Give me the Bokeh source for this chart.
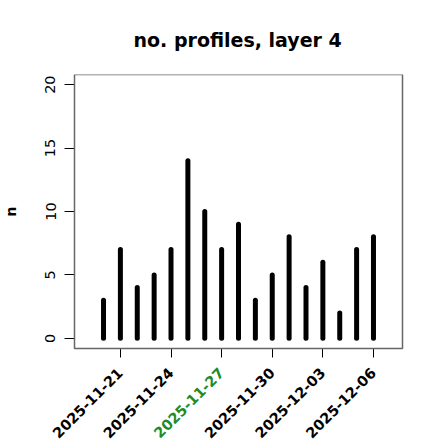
from math import pi
import pandas as pd
from bokeh.plotting import figure
from bokeh.models import (Range1d, FixedTicker, ColumnDataSource, DatetimeAxis,
                          DatetimeTickFormatter, BoxAnnotation)
from bokeh.embed import file_html
from bokeh.resources import INLINE

# ---- data ----
dates = ["2025-11-20", "2025-11-21", "2025-11-22", "2025-11-23", "2025-11-24",
         "2025-11-25", "2025-11-26", "2025-11-27", "2025-11-28", "2025-11-29",
         "2025-11-30", "2025-12-01", "2025-12-02", "2025-12-03", "2025-12-04",
         "2025-12-05", "2025-12-06"]
counts = [3, 7, 4, 5, 7, 14, 10, 7, 9, 3, 5, 8, 4, 6, 2, 7, 8]
tick_dates = ["2025-11-21", "2025-11-24", "2025-11-27", "2025-11-30", "2025-12-03", "2025-12-06"]
highlight_dates = ["2025-11-27"]
y_ticks = [0, 5, 10, 15, 20]
x_limits = ["2025-11-19", "2025-12-07"]
y_limits = [0, 20]
title_text = "no. profiles, layer 4"
y_label = "n"

# ---- layout (canvas pixels) ----
FIG_W, FIG_H = 440, 440
BOX_L, BOX_R, BOX_T, BOX_B = 74, 402, 74, 348


def ms(s):
    return pd.Timestamp(s).value / 1e6


xlo, xhi = ms(x_limits[0]), ms(x_limits[1])
xpad = 0.04 * (xhi - xlo)
ypad = 0.04 * (y_limits[1] - y_limits[0])
bx0, bx1 = xlo - xpad, xhi + xpad
by0, by1 = y_limits[0] - ypad, y_limits[1] + ypad
xs = (bx1 - bx0) / (BOX_R - BOX_L)
ys = (by1 - by0) / (BOX_B - BOX_T)

src = ColumnDataSource(dict(x=[ms(d) for d in dates], y0=[0] * len(counts), y1=counts))

p = figure(width=FIG_W, height=FIG_H, output_backend="svg", toolbar_location=None,
           x_axis_type="datetime",
           x_range=Range1d(bx0 - BOX_L * xs, bx1 + (FIG_W - BOX_R) * xs),
           y_range=Range1d(by0 - (FIG_H - BOX_B) * ys, by1),
           min_border_left=0, min_border_right=0, min_border_top=BOX_T, min_border_bottom=0)
p.background_fill_color = "white"
p.border_fill_color = "white"
p.outline_line_color = None
p.grid.visible = False

p.add_layout(BoxAnnotation(left=bx0, right=bx1, bottom=by0, top=by1, fill_color=None,
                           fill_alpha=0, line_color="#666666", line_alpha=1.0,
                           line_width=1.5))

p.segment(x0="x", x1="x", y0="y0", y1="y1", source=src, line_color="black",
          line_width=5, line_cap="round")

# title
p.title.text = title_text
p.title.align = "left"
p.title.offset = 133
p.title.text_font = "DejaVu Sans"
p.title.text_font_size = "19px"
p.title.text_font_style = "bold"
p.title.text_color = "black"
p.title.standoff = 48

# y axis
ya = p.yaxis[0]
ya.fixed_location = bx0
ya.ticker = FixedTicker(ticks=y_ticks)
ya.bounds = (y_limits[0], y_limits[1])
ya.axis_line_color = "black"
ya.major_tick_out = 10
ya.major_tick_in = 0
ya.minor_tick_line_color = None
ya.major_label_orientation = "vertical"
ya.major_label_text_font = "DejaVu Sans"
ya.major_label_text_font_size = "14.4px"
ya.major_label_text_color = "black"
ya.major_label_standoff = 9
ya.axis_label = y_label
ya.axis_label_text_font = "DejaVu Sans"
ya.axis_label_text_font_size = "14.4px"
ya.axis_label_text_font_style = "bold"
ya.axis_label_text_color = "black"
ya.axis_label_standoff = 24

fmt_str = "%Y-%m-%d"


def date_fmt():
    return DatetimeTickFormatter(microseconds=fmt_str, milliseconds=fmt_str, seconds=fmt_str,
                                 minsec=fmt_str, minutes=fmt_str, hourmin=fmt_str, hours=fmt_str,
                                 days=fmt_str, months=fmt_str, years=fmt_str)


def style_xaxis(ax, ticks, color):
    ax.ticker = FixedTicker(ticks=[ms(d) for d in ticks])
    ax.formatter = date_fmt()
    ax.fixed_location = by0
    ax.axis_line_color = None
    ax.major_tick_out = 9
    ax.major_tick_in = 0
    ax.major_tick_line_color = "black"
    ax.minor_tick_line_color = None
    ax.major_label_orientation = pi / 4
    ax.major_label_text_font = "DejaVu Sans"
    ax.major_label_text_font_style = "bold"
    ax.major_label_text_font_size = "14.4px"
    ax.major_label_text_color = color
    ax.major_label_standoff = 13


style_xaxis(p.xaxis[0], [d for d in tick_dates if d not in highlight_dates], "black")
hx = DatetimeAxis()
style_xaxis(hx, highlight_dates, "forestgreen")
p.add_layout(hx, "below")

open("out.html", "w").write(file_html(p, INLINE))
